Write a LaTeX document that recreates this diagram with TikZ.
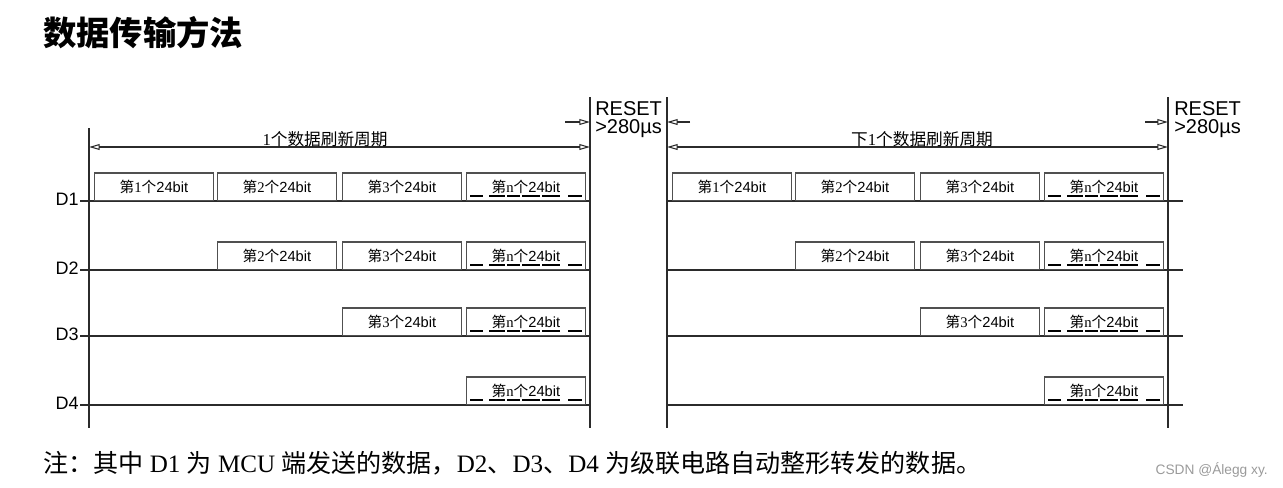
\documentclass[tikz,border=0pt]{standalone}
\usepackage{fontspec}
\setmainfont{Liberation Sans}
\newfontfamily\cjk{Noto Sans CJK SC}
\newfontfamily\tms{Liberation Serif}
\usetikzlibrary{arrows.meta}
\definecolor{wire}{HTML}{2B2B2B}
\definecolor{boxline}{HTML}{505050}
\definecolor{wmgray}{HTML}{9A9A9A}
\begin{document}
\begin{tikzpicture}[x=0.75pt, y=-0.75pt,
  sig/.style={draw=wire, line width=0.8pt},
  dim/.style={draw=wire, line width=0.8pt,
              {Triangle[open,length=8pt,width=4.4pt]}-{Triangle[open,length=8pt,width=4.4pt]}},
  tick/.style={draw=wire, line width=0.8pt, -{Triangle[open,length=8pt,width=4.4pt]}},
  cell/.style={draw=boxline, line width=0.9pt, minimum width=89pt, minimum height=20.5pt,
               inner sep=0pt, anchor=south west, font=\fontsize{11}{13}\selectfont},
  ubar/.style={draw=black, line width=1.5pt},
  dlabel/.style={anchor=base east, inner sep=0pt, font=\fontsize{13.5}{16}\selectfont},
  period/.style={inner sep=0pt, font=\cjk\fontsize{12.5}{15}\selectfont},
  rst/.style={anchor=base west, inner sep=0pt, font=\fontsize{15}{18}\selectfont}
]
  \useasboundingbox (0,0) rectangle (1283,487);

  \node[anchor=west, inner sep=0pt, font=\cjk\bfseries\fontsize{25}{30}\selectfont] (title) at (43,33) {数据传输方法};

  \coordinate (a-top) at (89,128);   \coordinate (a-bot) at (89,428);
  \coordinate (a-end) at (590,97);   \coordinate (a-endb) at (590,428);
  \coordinate (b-top) at (667,97);   \coordinate (b-bot) at (667,428);
  \coordinate (b-end) at (1168,97);  \coordinate (b-endb) at (1168,428);
  \draw[sig] (a-top) -- (a-bot);
  \draw[sig] (a-end) -- (a-endb);
  \draw[sig] (b-top) -- (b-bot);
  \draw[sig] (b-end) -- (b-endb);

  \coordinate (a-l) at (89,147);   \coordinate (a-r) at (590,147);
  \coordinate (b-l) at (667,147);  \coordinate (b-r) at (1168,147);
  \draw[dim] (a-l) -- (a-r);
  \draw[dim] (b-l) -- (b-r);
  \node[period] (pa) at (325,139) {{\tms 1}个数据刷新周期};
  \node[period] (pb) at (922,139) {下{\tms 1}个数据刷新周期};

  \coordinate (ra-in) at (565,122);  \coordinate (ra-out) at (690,122);
  \coordinate (rb-in) at (1145,122);
  \draw[tick] (ra-in) -- (590,122);
  \draw[tick] (ra-out) -- (667,122);
  \draw[tick] (rb-in) -- (1168,122);
  \node[rst] (ra1) at (595,115) {RESET};
  \node[rst] (ra2) at (595,133) {>280µs};
  \node[rst] (rb1) at (1174,115) {RESET};
  \node[rst] (rb2) at (1174,133) {>280µs};

  \foreach \r/\ry in {1/201,2/270,3/336,4/405}{
    \node[dlabel] (lbl\r) at (79,\ry+4) {D\r};
    \draw[sig] (80,\ry) -- (590,\ry);
    \draw[sig] (667,\ry) -- (1183,\ry);
  }

  \foreach \p/\dx in {a/0,b/578}{
    \foreach \r/\ry in {1/201,2/270,3/336,4/405}{
      \foreach \i/\bx in {1/94,2/217,3/342,4/466}{
        \ifnum\i<\r\relax\else
          \ifnum\i<4
            \node[cell] (\p\r\i) at (\bx+\dx,\ry) {{\cjk 第}{\tms\i}{\cjk 个}24bit};
          \else
            \node[cell] (\p\r\i) at (\bx+\dx,\ry) {{\cjk 第}{\tms n}{\cjk 个}24bit};
            \foreach \s/\e in {4/17,23/39,41/54,56/74,76/94,102/116}
              \draw[ubar] (\bx+\dx+\s,\ry-5) -- (\bx+\dx+\e,\ry-5);
          \fi
        \fi
      }
    }
  }

  \node[anchor=west, inner sep=0pt, font=\tms\fontsize{18.8}{22}\selectfont] (note) at (43,463)
    {{\cjk 注：其中} D1 {\cjk 为} MCU {\cjk 端发送的数据，}D2{\cjk 、}D3{\cjk 、}D4 {\cjk 为级联电路自动整形转发的数据。}};
  \node[anchor=east, inner sep=0pt, text=wmgray, font=\fontsize{10.3}{12}\selectfont] (wm) at (1268,470) {CSDN @Álegg xy.};
\end{tikzpicture}
\end{document}
